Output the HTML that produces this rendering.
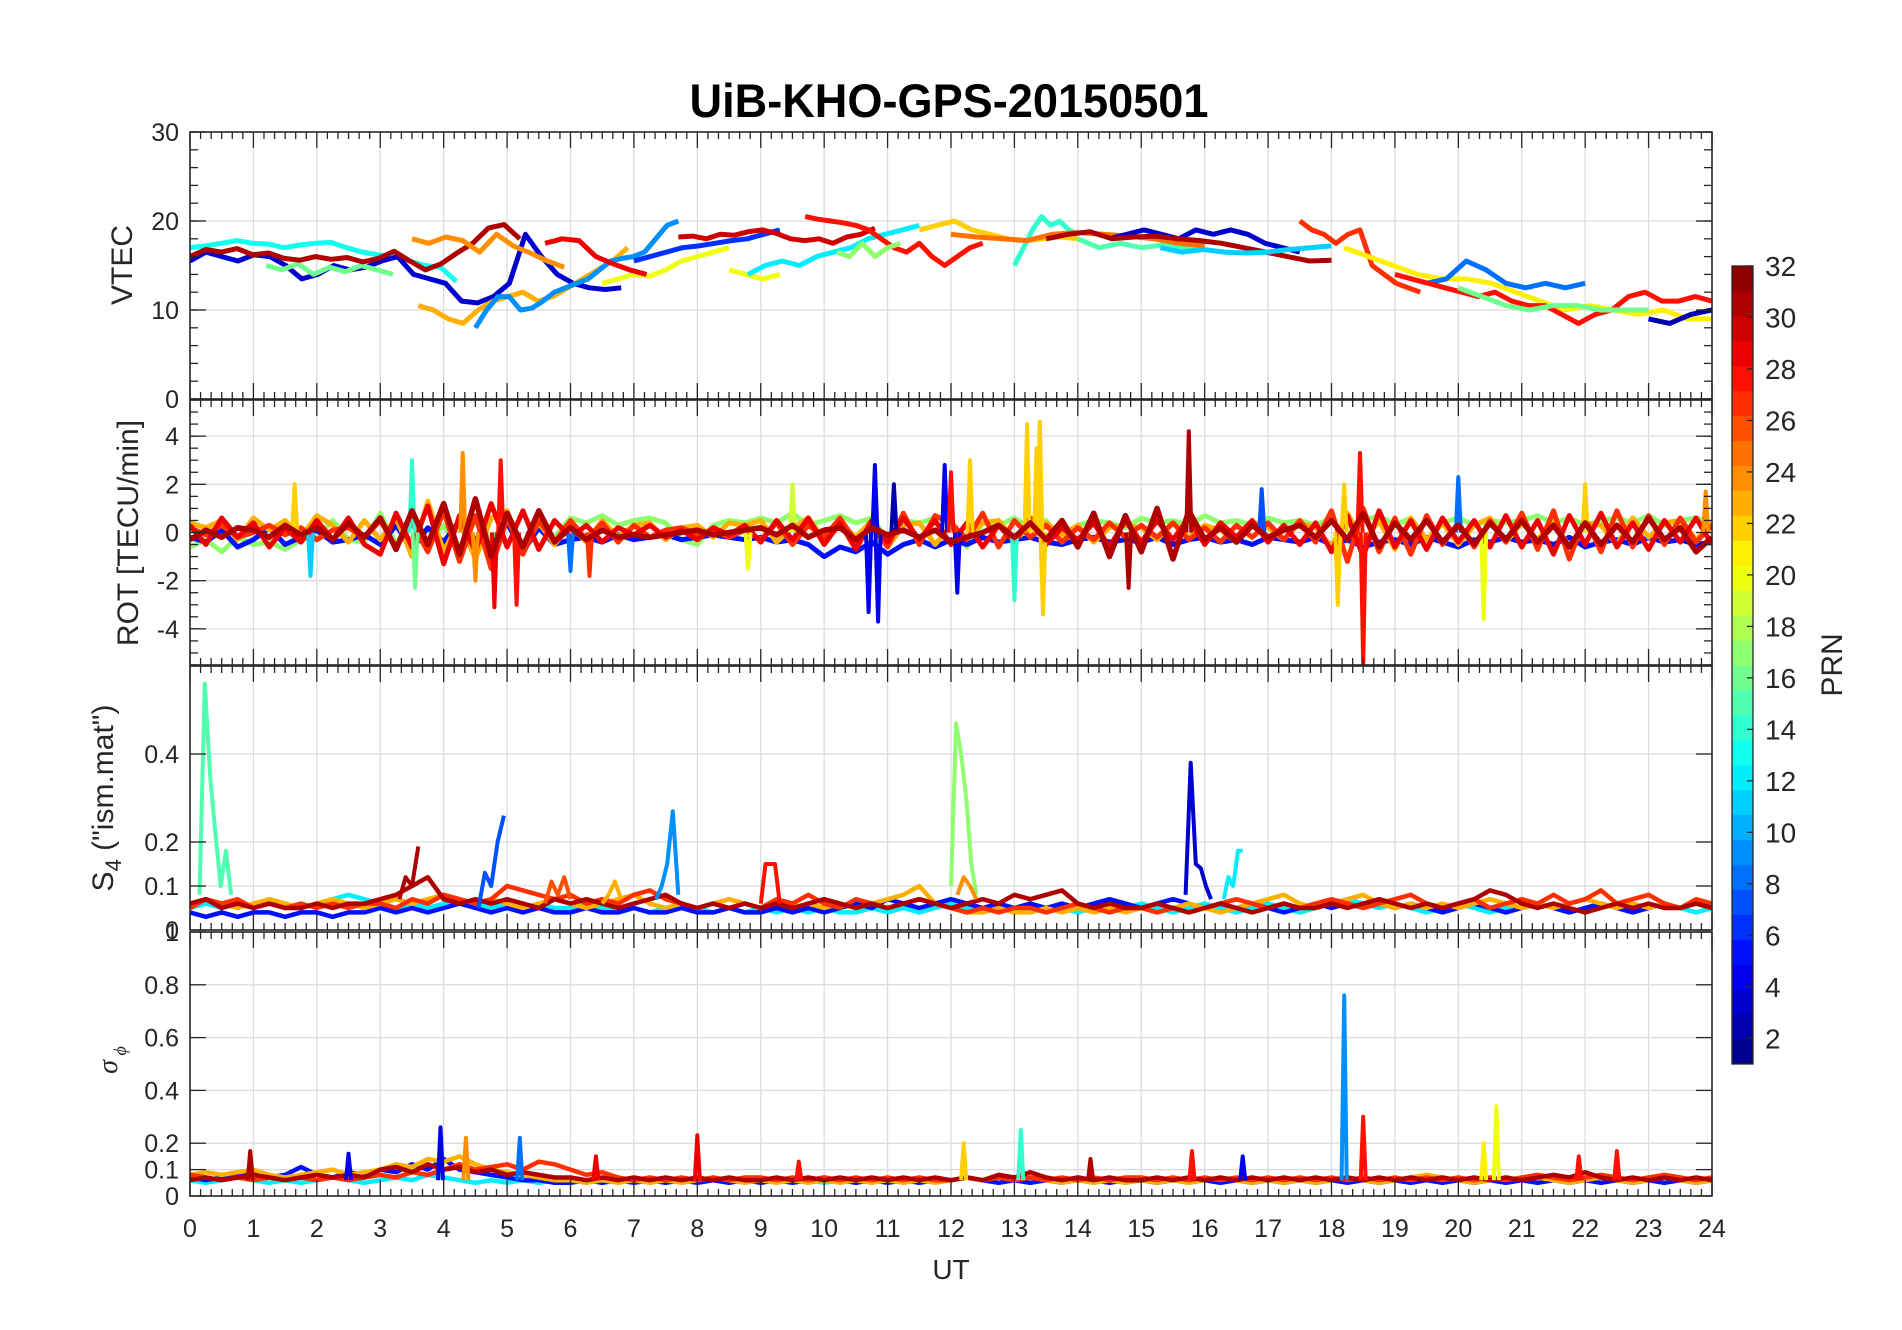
<!DOCTYPE html>
<html><head><meta charset="utf-8">
<style>
html,body{margin:0;padding:0;background:#fff;}
svg{display:block;font-family:"Liberation Sans",Arial,sans-serif;}
</style></head>
<body>
<svg id="chart" width="1902" height="1330" viewBox="0 0 1902 1330" xmlns="http://www.w3.org/2000/svg">
<rect x="0" y="0" width="1902" height="1330" fill="#fff"/>
<text x="949" y="117" text-anchor="middle" font-size="47" font-weight="bold" textLength="519" lengthAdjust="spacingAndGlyphs" fill="#000">UiB-KHO-GPS-20150501</text>
<g id="layer"></g>
</svg>
<script>
// ---------------- DATA ----------------
const xTickLabels = ["0","1","2","3","4","5","6","7","8","9","10","11","12","13","14","15","16","17","18","19","20","21","22","23","24"];
const vtecTicks = [0,10,20,30];
const rotTicks = [-4,-2,0,2,4];
const s4Ticks = [0,0.1,0.2,0.4];
const sigTicks = [0,0.1,0.2,0.4,0.6,0.8,1];
const cbTicks = [2,4,6,8,10,12,14,16,18,20,22,24,26,28,30,32];

// VTEC series
const vtecPRN   = [13,3,16,31,24,23,9,6,20,20,12,30,28,17,22,14,15,25,3,31,11,27,21,8,28,16,2,29];
const vtecStart = [0,0,1.2,0,3.5,3.6,4.5,7,6.5,8.5,8.8,7.7,9.7,10.2,11.5,13,14,12,14.5,13.5,15.3,17.5,18.2,19.5,19,20,23,5.6];
const vtecEnd   = [4.2,6.8,3.2,5.2,5.9,6.9,7.7,9.3,8.5,9.3,11.5,10.8,12.5,11.2,14,14,16,16,17.5,18,18,19.4,24,22,24,23,24,7.2];
const vtecVals = [
 [17,17.2,17.5,17.8,17.5,17.4,17,17.3,17.5,17.6,17,16.5,16.2,16,15.5,15,14.8,13.2],
 [15.5,16.5,16,15.5,16.2,16,15,13.5,14,15,14.5,14.8,15.5,16,14,13.5,13,11,10.8,11.5,13,18.5,16,14,13,12.5,12.3,12.5],
 [15,14.5,15.2,14,14.8,14.3,15,14.5,14],
 [16,16.8,16.5,16.9,16.2,16.4,15.8,15.6,16,15.7,15.9,15.4,15.8,16.6,15.5,14.5,15.2,16.4,17.5,19.2,19.6,18],
 [18,17.5,18.2,17.8,16.5,18.5,17.2,16.4,15.5,14.8],
 [10.5,10,9,8.5,10,11,11.5,12,11,11.5,12.5,13.5,14.5,15.5,17],
 [8,10,11.5,11.5,10,10.2,11,12,12.5,13,13.5,14.5,15.5,15.8,16,16.5,18,19.5,20],
 [15.5,16,16.5,17,17.2,17.5,17.8,18,18.5,19],
 [13,13.5,14,13.8,14.5,15.5,16,16.5,17],
 [14.5,14,13.5,14],
 [14,15,15.5,15,16,16.5,17,18,18.5,19,19.5],
 [18.2,18.3,18,18.5,18.4,18.8,19,18.6,18,17.8,18,17.5,18.2,18.5,19.2],
 [20.5,20.2,20,19.8,19.5,19,18,17,16.5,17.5,16,15,16,17,17.5],
 [16.5,16,17.5,16,17,17.5],
 [19,19.5,20,19,18.5,18,17.8,18,18.2,18],
 [15,17,19,20.5,19.5,20,19,18.5],
 [18,17,17.5,17,17.3,17,16.8],
 [18.5,18.2,18,17.8,18.5,18.7,18.5,18.3,18,17.5,17.2],
 [18,18.5,19,18.5,18,19,18.5,19,18.5,17.5,17,16.5],
 [18,18.5,18.8,18,18.2,18.3,18,17.8,17.5,17,16.5,16,15.5,15.6],
 [17,16.5,16.8,16.5,16.4,16.5,16.8,17,17.2],
 [20,19,18.5,17.5,18.5,19,15,14,13,12.5,12],
 [17,16,15,14,13.5,13.5,13,12,11,10,10.5,10,9.5,10,9,9],
 [13,13.5,15.5,14.5,13,12.5,13,12.5,13],
 [14,13.5,13,12.5,12,11.5,12,11,10.5,10.5,9.5,8.5,9.5,10,11.5,12,11,11,11.5,11],
 [12.5,11.5,10.5,10,10.5,10.5,10,10,10],
 [9,8.5,9.5,10],
 [17.5,18,17.8,16,15.2,14.5,14]
];

// ROT baseline series (full day, evenly sampled)
const rotPRN = [17,5,23,27,31];
const rotVals = [
 [-.6,-.3,-.8,-.2,-.5,-.4,-.7,-.3,-.2,.5,-.3,-.4, .8,-.5,.6,-.4,.3,-.6,.5,-.3,.4,-.5,.3,-.2, .6,.4,.7,.3,.5,.6,.4,-.3,-.5,.3,.5,.4, .6,.4,.8,.3,.5,.7,.4,.6,-.3,.5,.4,.6, .5,-.6,.4,.3,.6,.2,.5,-.4,.3,.5,.4,.2, .6,.4,.5,.3,.7,.4,.5,.3,.6,.4,.5,.3, .6,-.4,.5,.7,.3,.6,-.5,.4,.6,.3,.5,.4, .5,.7,.4,.6,.3,.5,.6,.4,.7,.3,.5,.6,.4],
 [-.2,-.4,.1,-.6,-.3,.2,-.5,-.2,.1,-.4,-.3,-.1, -.5,.3,-.7,.2,-.4,.5,-.3,-.6,.4,-.8,.2,-.5, -.3,-.2,-.4,-.1,-.3,-.2,-.1,-.3,-.2,-.1,-.2,-.3, -.2,-.4,-.3,-.5,-1,-.6,-.8,-.4,-.9,-.5,-.3,-.6, -.3,-.5,-.2,-.4,-.3,-.2,-.4,-.5,-.3,-.2,-.4,-.3, -.4,-.2,-.5,-.3,-.2,-.4,-.3,-.5,-.2,-.3,-.4,-.2, -.5,-.3,-.6,-.4,-.3,-.5,-.2,-.4,-.6,-.3,-.4,-.2, -.4,-.3,-.5,-.2,-.6,-.4,-.3,-.5,-.2,-.4,-.3,-.5,-.4],
 [.4,.2,.5,-.3,.6,.1,.5,-.2,.7,.3,-.4,.5, -.3,.6,-1,1.3,-.8,.5,-1.1,.6,.9,-.7,.4,-.5, .3,-.4,.5,-.2,.3,.4,-.3,.2,.3,-.2,.4,.3, .5,-.4,.2,.6,-.3,.4,-.2,.5,-.6,.3,.4,-.5, .3,-.2,.4,.5,-.3,.2,.4,-.1,.3,-.4,.2,.3, .2,-.3,.4,-.2,.3,.1,-.4,.3,.2,-.3,.4,.2, -.6,.8,-.4,.5,-.7,.6,-.3,.4,-.5,.3,.6,-.4, .4,-.3,.5,-.6,.4,.3,-.5,.6,-.2,.4,.5,-.3,.4],
 [.2,-.1,.3,-.2,0,.3,-.1,.2,-.3,.1,.2,-.2, .5,-.6,.4,-.8,.9,-1.2,.7,-1.5,.6,-.9,.5,-.4, .5,-.3,.4,-.4,.3,-.2,.1,.2,-.1,.1,-.2,.1, -.3,.4,-.5,.3,-.2,.6,-.4,.3,-.6,.8,-.5,.7, .4,-.3,.8,-.6,.5,-.2,.3,-.4,.2,-.3,.4,-.2, .3,-.2,.4,-.3,.2,-.4,.3,-.2,.4,-.3,.5,-.4, .9,-1.2,1,-.8,.6,-.9,.7,-.5,.4,-.6,.5,-.4, .8,-.7,.9,-1.1,.6,-.8,.9,-.6,.7,-.5,.6,-.4,.3],
 [-.3,.1,-.2,.2,.1,-.2,.3,-.1,.2,-.3,.4,-.2, .6,-.7,.9,-.5,1.2,-.9,1.4,-1,.8,-.6,.9,-.4, .2,-.3,.1,-.2,-.1,-.2,-.1,0,.1,-.1,0,.1, .2,-.1,.3,-.2,.1,.2,-.3,.2,-.1,.1,-.2,.1, -.4,-.2,0,.3,-.2,.4,-.3,.5,-.6,.8,-1,.7, -.8,1,-1.1,.9,-.3,.2,-.4,.3,-.2,.1,.3,-.2, .5,-.3,.8,-.6,.4,-.3,.5,-.4,.3,-.5,.4,-.3, .5,-.4,.3,-.6,.4,-.5,.3,-.4,.6,-.3,.2,-.8,-.2]
];
// Extra ROT series (PRN 29) covering active periods
const rotExtraPRN = [29];
const rotExtraVals = [
 [.3,-.5,.6,-.2,.4,-.6,.2,-.4,.5,-.3,.6,-.5, -.9,.8,-.6,1.1,-1.3,.7,-.8,1.2,-.6,.9,-.7,.5, -.2,.3,-.4,.2,-.1,.3,-.2,.1,-.3,.2,-.1,.3, -.4,.5,-.3,.6,-.5,.4,-.7,.5,-.4,.6,-.3,.5, -.5,.4,-.6,.3,-.4,.6,-.5,.2,-.3,.4,-.6,.5, -.4,.5,-.3,.6,-.5,.4,-.2,.5,-.4,.3,-.5,.4, -.8,.7,-1,.9,-.6,.5,-.7,.6,-.4,.5,-.6,.7, -.6,.5,-.9,.7,-.5,.8,-.6,.4,-.7,.5,-.4,.6,-.5]
];
// ROT spikes
const rotSpikeT   = [1.65,1.9,3.5,3.55,4.3,4.5,4.8,4.9,5.15,6.0,9.5,10.7,10.8,10.85,11.1,11.9,12.0,12.1,12.3,13.0,13.2,13.35,13.4,13.45,14.8,15.75,16.9,18.1,18.2,18.45,18.5,20.0,20.4,22.0,23.9,6.3,8.8];
const rotSpikeV   = [2,-1.8,3,-2.3,3.3,-2,-3.1,3,-3,-1.6,2,-3.3,2.8,-3.7,2,2.8,2.5,-2.5,3,-2.8,4.5,3.5,4.6,-3.4,-2.3,4.2,1.8,-3,2,3.3,-5.5,2.3,-3.6,2,1.7,-1.8,-1.5];
const rotSpikePRN = [22,11,14,16,24,24,29,28,28,8,19,4,4,4,2,4,28,4,22,14,22,22,22,22,31,31,7,22,22,28,28,8,20,22,24,27,20];

// S4 baseline series
const s4PRN = [12,5,23,27,31];
const s4Vals = [
 [.05,.06,.05,.06,.05,.07,.06,.05,.06,.07,.08,.07, .06,.05,.06,.05,.06,.07,.06,.05,.06,.05,.06,.05, .05,.06,.05,.04,.05,.04,.05,.06,.05,.04,.05,.04, .05,.04,.05,.04,.05,.04,.04,.05,.04,.05,.04,.05, .06,.05,.04,.05,.04,.05,.04,.05,.04,.05,.04,.05, .06,.05,.04,.05,.06,.05,.04,.05,.06,.05,.04,.05, .06,.07,.06,.05,.06,.05,.04,.05,.06,.05,.04,.05, .05,.06,.05,.04,.05,.06,.05,.04,.05,.06,.05,.04,.05],
 [.04,.03,.04,.03,.04,.04,.03,.04,.04,.03,.04,.04, .05,.04,.05,.04,.05,.06,.05,.04,.05,.04,.05,.04, .04,.05,.04,.04,.05,.04,.04,.05,.04,.04,.05,.04, .04,.05,.04,.05,.04,.05,.06,.05,.07,.06,.05,.06, .07,.06,.05,.06,.05,.06,.05,.06,.05,.06,.07,.06, .05,.06,.07,.06,.05,.06,.05,.06,.05,.04,.05,.06, .05,.06,.05,.06,.05,.06,.05,.04,.05,.06,.05,.04, .05,.06,.05,.04,.05,.06,.05,.04,.05,.06,.05,.06,.05],
 [.06,.07,.06,.05,.06,.07,.06,.05,.06,.07,.06,.05, .06,.07,.06,.07,.08,.07,.06,.07,.06,.05,.06,.07, .06,.05,.06,.07,.08,.06,.05,.06,.05,.06,.07,.06, .05,.06,.05,.06,.05,.06,.05,.06,.07,.08,.1,.06, .05,.04,.04,.05,.04,.04,.05,.04,.05,.04,.05,.04, .05,.04,.05,.06,.05,.04,.05,.06,.07,.08,.06,.05, .06,.07,.08,.06,.05,.06,.05,.06,.05,.06,.07,.06, .05,.06,.05,.06,.07,.06,.05,.06,.05,.06,.05,.06,.05],
 [.05,.07,.06,.07,.05,.06,.05,.06,.05,.06,.05,.06, .06,.05,.07,.06,.08,.07,.06,.07,.1,.09,.08,.07, .08,.06,.07,.06,.08,.09,.07,.06,.05,.06,.05,.06, .05,.07,.06,.08,.06,.05,.07,.06,.05,.06,.07,.06, .05,.04,.05,.04,.05,.05,.04,.05,.06,.05,.04,.05, .05,.04,.05,.04,.05,.06,.07,.06,.05,.06,.05,.06, .07,.06,.05,.06,.07,.08,.06,.05,.06,.07,.05,.06, .07,.06,.08,.06,.07,.09,.06,.07,.08,.06,.05,.07,.06],
 [.06,.07,.05,.06,.05,.06,.05,.05,.06,.05,.06,.06, .07,.08,.1,.12,.07,.06,.07,.06,.07,.06,.05,.07, .06,.07,.06,.05,.06,.07,.08,.06,.05,.06,.05,.06, .05,.06,.05,.06,.07,.06,.05,.06,.05,.06,.07,.06, .05,.06,.07,.06,.08,.07,.08,.09,.06,.05,.06,.05, .05,.06,.05,.04,.05,.06,.05,.04,.05,.06,.05,.05, .06,.05,.06,.07,.06,.05,.06,.05,.06,.07,.09,.08, .06,.05,.06,.05,.04,.05,.06,.05,.06,.05,.05,.06,.05]
];
// S4 events
const s4EvPRN   = [15,17,3,7,9,31,28,12,26,23,24];
const s4EvStart = [0.15,12.0,15.7,4.55,7.35,3.3,9.0,16.3,5.6,6.5,12.1];
const s4EvEnd   = [0.65,12.4,16.1,4.95,7.7,3.6,9.3,16.6,6.0,6.8,12.4];
const s4EvVals = [
 [.08,.56,.35,.22,.1,.18,.08],
 [.1,.47,.4,.3,.15,.08],
 [.08,.38,.15,.14,.1,.07],
 [.05,.13,.1,.2,.26],
 [.07,.1,.15,.27,.08],
 [.07,.12,.1,.19],
 [.06,.15,.15,.15,.06],
 [.07,.12,.1,.18,.18],
 [.06,.11,.08,.12,.07],
 [.06,.08,.11,.07],
 [.08,.12,.1,.07]
];

// Phase scintillation baseline
const sigPRN = [12,5,23,27,31];
const sigVals = [
 [.06,.05,.06,.07,.06,.05,.06,.05,.06,.07,.06,.05, .06,.07,.06,.08,.07,.06,.05,.06,.05,.06,.05,.06, .05,.06,.05,.06,.05,.06,.05,.06,.05,.06,.05,.06, .05,.06,.05,.06,.05,.06,.05,.06,.05,.06,.05,.06, .06,.07,.06,.05,.06,.05,.06,.05,.06,.05,.06,.05, .06,.05,.06,.05,.06,.05,.06,.05,.06,.05,.06,.05, .06,.07,.06,.05,.06,.05,.06,.05,.06,.05,.06,.05, .06,.05,.06,.05,.06,.05,.06,.05,.06,.05,.06,.05,.06],
 [.07,.06,.07,.08,.09,.07,.08,.11,.08,.07,.09,.08, .1,.09,.12,.1,.14,.1,.09,.08,.07,.06,.06,.05, .05,.06,.05,.06,.05,.06,.05,.06,.05,.06,.05,.06, .05,.06,.05,.06,.07,.06,.05,.06,.05,.06,.05,.06, .06,.07,.06,.05,.06,.05,.06,.05,.07,.06,.05,.06, .06,.05,.06,.07,.06,.05,.06,.05,.06,.05,.06,.05, .06,.05,.06,.05,.06,.05,.06,.05,.06,.05,.06,.05, .06,.05,.06,.05,.06,.05,.06,.05,.06,.05,.06,.05,.06],
 [.08,.09,.08,.09,.1,.08,.07,.08,.09,.1,.08,.09, .1,.12,.11,.14,.13,.15,.12,.1,.09,.08,.07,.06, .06,.05,.06,.05,.06,.05,.06,.05,.06,.07,.06,.05, .06,.05,.06,.05,.06,.05,.06,.05,.06,.05,.06,.05, .06,.07,.06,.07,.06,.07,.06,.05,.06,.05,.06,.05, .06,.05,.06,.05,.06,.07,.06,.05,.06,.05,.06,.05, .06,.07,.06,.05,.06,.07,.08,.07,.06,.05,.06,.07, .06,.07,.06,.05,.06,.07,.06,.05,.06,.07,.06,.05,.06],
 [.08,.07,.06,.07,.06,.07,.06,.07,.06,.07,.06,.07, .08,.07,.09,.08,.1,.12,.1,.11,.12,.1,.13,.12, .1,.08,.09,.07,.06,.07,.06,.07,.06,.07,.06,.07, .07,.06,.07,.06,.07,.06,.07,.06,.07,.06,.07,.06, .06,.07,.06,.07,.06,.07,.06,.07,.06,.07,.06,.07, .07,.06,.07,.06,.07,.06,.07,.06,.07,.06,.07,.06, .07,.06,.07,.06,.07,.06,.07,.06,.07,.06,.07,.06, .07,.08,.07,.06,.07,.08,.07,.06,.07,.08,.07,.06,.07],
 [.06,.07,.06,.07,.08,.07,.06,.07,.08,.07,.08,.07, .1,.11,.09,.12,.1,.11,.09,.1,.08,.09,.08,.07, .07,.06,.07,.06,.07,.06,.07,.06,.07,.06,.07,.06, .06,.07,.06,.07,.06,.07,.06,.07,.06,.07,.06,.07, .06,.07,.06,.08,.07,.09,.07,.06,.07,.06,.07,.06, .06,.07,.06,.07,.06,.07,.06,.07,.06,.07,.06,.07, .06,.07,.06,.07,.06,.07,.06,.07,.06,.07,.06,.07, .06,.07,.08,.07,.09,.07,.06,.07,.06,.07,.06,.07,.06]
];
const sigSpikeT   = [0.95,2.5,3.95,4.35,5.2,8.0,12.2,13.1,14.2,15.8,16.6,18.2,18.5,20.4,20.6,22.5,21.9,9.6,6.4];
const sigSpikeV   = [.17,.16,.26,.22,.22,.23,.2,.25,.14,.17,.15,.76,.3,.2,.34,.17,.15,.13,.15];
const sigSpikePRN = [31,4,4,24,8,29,22,14,31,28,4,9,28,21,20,28,28,28,29];

// ---------------- LAYOUT ----------------
const X0 = 190, X1 = 1712;
const panels = [
 {top:132,bot:399,min:0,max:30,ticks:vtecTicks,minor:2},
 {top:400,bot:665,min:-5.5,max:5.5,ticks:rotTicks,minor:0.5},
 {top:666,bot:930,min:0,max:0.6,ticks:s4Ticks,minor:0},
 {top:932,bot:1196,min:0,max:1,ticks:sigTicks,minor:0}
];
const NS = "http://www.w3.org/2000/svg";
const layer = document.getElementById('layer');
function xs(t){ return X0 + t/24*(X1-X0); }
function ys(p,v){ return p.bot - (v-p.min)/(p.max-p.min)*(p.bot-p.top); }
function clamp(v){ return Math.max(0,Math.min(1,v)); }
function jet(prn){
  const x=(prn-0.5)/32;
  const r=clamp(Math.min(4*x-1.5,-4*x+4.5)), g=clamp(Math.min(4*x-0.5,-4*x+3.5)), b=clamp(Math.min(4*x+0.5,-4*x+2.5));
  return 'rgb('+Math.round(r*255)+','+Math.round(g*255)+','+Math.round(b*255)+')';
}
function mk(tag, attrs, parent){
  const e=document.createElementNS(NS,tag);
  for(const k in attrs) e.setAttribute(k,attrs[k]);
  (parent||layer).appendChild(e);
  return e;
}
function line(x1,y1,x2,y2,stroke,w,parent){ return mk('line',{x1:x1,y1:y1,x2:x2,y2:y2,stroke:stroke,'stroke-width':w},parent); }
function txt(x,y,s,size,anchor,parent){
  const t=mk('text',{x:x,y:y,'font-size':size,'text-anchor':anchor||'middle',fill:'#262626'},parent);
  t.textContent=s; return t;
}
const panelNames=['vtec','rot','s4','sigma-phi'];
const defs=mk('defs',{});
panels.forEach((p,i)=>{
  const cp=mk('clipPath',{id:'clip'+i},defs);
  mk('rect',{x:X0,y:p.top,width:X1-X0,height:p.bot-p.top},cp);
});

// grids
panels.forEach((p,i)=>{
  const g=mk('g',{});
  
  
  for(let h=1;h<24;h++) line(xs(h),p.top,xs(h),p.bot,'#dcdcdc',1.3,g);
  p.ticks.forEach(v=>{ if(v>p.min&&v<p.max) line(X0,ys(p,v),X1,ys(p,v),'#dcdcdc',1.3,g); });
});

function poly(p,i,ts,vs,prn,name,w){
  let d='';
  for(let k=0;k<vs.length;k++) d+=(k?'L':'M')+xs(ts[k]).toFixed(1)+','+ys(p,vs[k]).toFixed(1);
  const e=mk('path',{d:d,fill:'none',stroke:jet(prn),'stroke-width':w||5,'stroke-linejoin':'round','clip-path':'url(#clip'+i+')'});
  
  
  return e;
}
function evenSeries(p,i,t0,t1,vals,prn,name,w){
  const n=vals.length, ts=vals.map((_,k)=>t0+(t1-t0)*k/(n-1));
  return poly(p,i,ts,vals,prn,name,w);
}
function spike(p,i,t,v,prn,base,name){
  return poly(p,i,[t-0.04,t,t+0.04],[base,v,base],prn,name,4);
}

// Panel 1: VTEC
vtecVals.forEach((vals,k)=>evenSeries(panels[0],0,vtecStart[k],vtecEnd[k],vals,vtecPRN[k],'vtec-prn'+vtecPRN[k],5));
// Panel 2: ROT
rotVals.slice(0,4).forEach((vals,k)=>evenSeries(panels[1],1,0,24,vals,rotPRN[k],'rot-prn'+rotPRN[k],5));
rotExtraVals.forEach((vals,k)=>evenSeries(panels[1],1,0,24,vals,rotExtraPRN[k],'rot-prn'+rotExtraPRN[k],5));
rotSpikeT.forEach((t,k)=>spike(panels[1],1,t,rotSpikeV[k],rotSpikePRN[k],0,'rot-spike-prn'+rotSpikePRN[k]));
evenSeries(panels[1],1,0,24,rotVals[4],rotPRN[4],'rot-prn'+rotPRN[4],5.5);
// Panel 3: S4
s4Vals.forEach((vals,k)=>evenSeries(panels[2],2,0,24,vals,s4PRN[k],'s4-prn'+s4PRN[k],4.5));
s4EvVals.forEach((vals,k)=>evenSeries(panels[2],2,s4EvStart[k],s4EvEnd[k],vals,s4EvPRN[k],'s4-event-prn'+s4EvPRN[k],4));
// Panel 4: sigma phi
sigVals.forEach((vals,k)=>evenSeries(panels[3],3,0,24,vals,sigPRN[k],'sigma-prn'+sigPRN[k],4.5));
sigSpikeT.forEach((t,k)=>spike(panels[3],3,t,sigSpikeV[k],sigSpikePRN[k],0.06,'sigma-spike-prn'+sigSpikePRN[k]));

// axes, ticks
panels.forEach((p,i)=>{
  const g=mk('g',{});
  
  
  mk('rect',{x:X0,y:p.top,width:X1-X0,height:p.bot-p.top,fill:'none',stroke:'#262626','stroke-width':1.6},g);
  for(let m=0;m<=144;m++){
    const x=xs(m/6), L=(m%6===0)?16:7;
    line(x,p.bot,x,p.bot-L,'#262626',1.3,g);
    line(x,p.top,x,p.top+L,'#262626',1.3,g);
  }
  p.ticks.forEach(v=>{
    const y=ys(p,v);
    line(X0,y,X0+16,y,'#262626',1.3,g); line(X1,y,X1-16,y,'#262626',1.3,g);
    const t=txt(179,y+9,String(v),25,'end',g);
    
    
  });
  if(p.minor){
    for(let v=Math.ceil(p.min/p.minor)*p.minor; v<=p.max; v+=p.minor){
      const y=ys(p,v);
      line(X0,y,X0+8,y,'#262626',1.3,g); line(X1,y,X1-8,y,'#262626',1.3,g);
    }
  }
});
// x tick labels
xTickLabels.forEach((s,k)=>{
  const t=txt(xs(k),1237,s,25,'middle');
  
  
});
const ut=txt(951,1279,'UT',28,'middle');



// y titles
function ytitle(x,y,html,size,name){
  const t=mk('text',{transform:'translate('+x+','+y+') rotate(-90)','font-size':size,'text-anchor':'middle',fill:'#262626'});
  t.innerHTML=html;
  
  
}
ytitle(132,265,'VTEC',30,'vtec-axis-title');
ytitle(138,533,'ROT [TECU/min]',30,'rot-axis-title');
ytitle(113,798,'S<tspan font-size="22" dy="8">4</tspan><tspan dy="-8"> ("ism.mat")</tspan>',30,'s4-axis-title');
ytitle(117,1060,'<tspan font-family="Liberation Serif" font-style="italic">σ</tspan><tspan font-family="Liberation Serif" font-style="italic" font-size="18" dy="9"> ϕ</tspan>',28,'sigma-axis-title');

// colorbar
const cb=mk('g',{});


const CB_TOP=266, CB_BOT=1064, CBX=1732, CBW=21;
for(let k=1;k<=32;k++){
  const h=(CB_BOT-CB_TOP)/32;
  mk('rect',{x:CBX,y:CB_TOP+(32-k)*h,width:CBW,height:h+0.5,fill:jet(k)},cb);
}
mk('rect',{x:CBX,y:CB_TOP,width:CBW,height:CB_BOT-CB_TOP,fill:'none',stroke:'#262626','stroke-width':1.3},cb);
cbTicks.forEach(v=>{
  const y=CB_TOP+(32-v)/31*(CB_BOT-CB_TOP);
  line(CBX+CBW,y,CBX+CBW-6,y,'#262626',1.3,cb);
  const t=txt(1765,y+10,String(v),28,'start',cb);
  
  
});
const prnT=mk('text',{transform:'translate(1842,665) rotate(-90)','font-size':30,'text-anchor':'middle',fill:'#262626'});
prnT.textContent='PRN';


</script>
</body></html>
